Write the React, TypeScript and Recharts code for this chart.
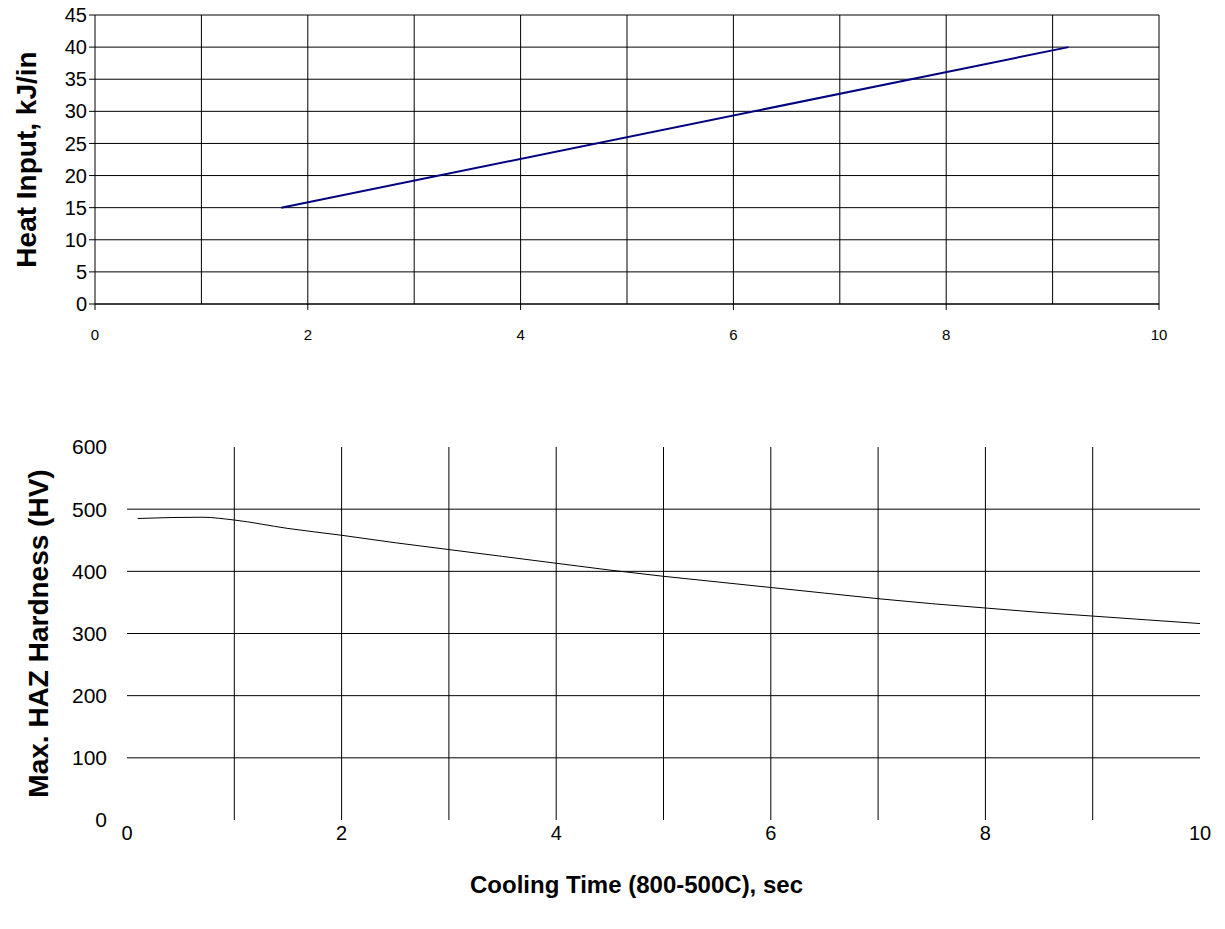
import React from 'react'
import { LineChart, Line, XAxis, YAxis, CartesianGrid, ReferenceLine } from 'recharts'

// top chart: heat input vs cooling time
const heatX = [1.75, 9.15]
const heatY = [15, 40]
const heatXTicks = [0, 2, 4, 6, 8, 10]
const heatYTicks = [0, 5, 10, 15, 20, 25, 30, 35, 40, 45]
const heatGridX = [1, 2, 3, 4, 5, 6, 7, 8, 9, 10]

// bottom chart: max HAZ hardness vs cooling time
const coolX = [0.1, 0.4, 0.7, 1.0, 1.5, 2, 2.5, 3, 3.5, 4, 4.5, 5, 5.5, 6, 6.5, 7, 7.5, 8, 8.5, 9, 9.5, 10]
const hardHV = [485, 486.5, 487, 482.5, 469, 458, 446, 435, 424, 413, 402, 392, 383, 374, 365, 356, 348, 341, 334, 328, 322, 316]
const hardXTicks = [0, 2, 4, 6, 8, 10]
const hardYTicks = [0, 100, 200, 300, 400, 500, 600]
const hardGridX = [1, 2, 3, 4, 5, 6, 7, 8, 9]
const hardGridY = [100, 200, 300, 400, 500]

const font = '"Liberation Sans", Arial, sans-serif'

const heatData = heatX.map((x, i) => ({ x, y: heatY[i] }))
const hardData = coolX.map((x, i) => ({ x, y: hardHV[i] }))

const YTitle = (p: any) => {
  const { viewBox, cx, text, size } = p
  const cy = viewBox.y + viewBox.height / 2
  return (
    <text x={cx} y={cy} transform={`rotate(-90 ${cx} ${cy})`} textAnchor="middle"
      dominantBaseline="central" fontFamily={font} fontWeight="bold" fontSize={size} fill="#000">{text}</text>
  )
}

const XTitle = (p: any) => {
  const { viewBox, cy, dx, text, size } = p
  const cx = viewBox.x + viewBox.width / 2 + dx
  return (
    <text x={cx} y={cy} textAnchor="middle" dominantBaseline="central"
      fontFamily={font} fontWeight="bold" fontSize={size} fill="#000">{text}</text>
  )
}

export default function App() {
  return (
    <div style={{ position: 'absolute', left: 0, top: 0, width: 1225, height: 929, background: '#fff' }}>
      <div style={{ position: 'absolute', left: 0, top: 0 }}>
        <LineChart width={1225} height={350} data={heatData} margin={{ top: 15, right: 66, left: 0, bottom: 0 }}>
          <CartesianGrid vertical={false} stroke="#000" strokeWidth={1} />
          {heatGridX.map(v => <ReferenceLine key={v} x={v} stroke="#000" strokeWidth={1} />)}
          <XAxis dataKey="x" type="number" domain={[0, 10]} ticks={heatXTicks} height={46}
            stroke="#000" tickSize={6} tickMargin={19}
            tick={{ fill: '#000', fontSize: 15, fontFamily: font }} />
          <YAxis type="number" domain={[0, 45]} ticks={heatYTicks} width={95} interval={0}
            stroke="#000" tickSize={6} tickMargin={2}
            tick={{ fill: '#000', fontSize: 20, fontFamily: font }}
            label={<YTitle cx={26} text="Heat Input, kJ/in" size={28} />} />
          <Line dataKey="y" stroke="#000080" strokeWidth={2} dot={false} isAnimationActive={false} />
        </LineChart>
      </div>
      <div style={{ position: 'absolute', left: 0, top: 400 }}>
        <LineChart width={1225} height={520} data={hardData} margin={{ top: 47, right: 25, left: 0, bottom: 0 }}>
          {hardGridY.map(v => <ReferenceLine key={'h' + v} y={v} stroke="#000" strokeWidth={1} />)}
          {hardGridX.map(v => <ReferenceLine key={'v' + v} x={v} stroke="#000" strokeWidth={1} />)}
          <XAxis dataKey="x" type="number" domain={[0, 10]} ticks={hardXTicks} height={100}
            axisLine={false} tickLine={false} tickSize={0} tickMargin={6}
            tick={{ fill: '#000', fontSize: 20, fontFamily: font }}
            label={<XTitle cy={484} dx={-27} text="Cooling Time (800-500C), sec" size={24} />} />
          <YAxis type="number" domain={[0, 600]} ticks={hardYTicks} width={127} interval={0}
            axisLine={false} tickLine={false} tickSize={0} tickMargin={20}
            tick={{ fill: '#000', fontSize: 21, fontFamily: font }}
            label={<YTitle cx={38} text="Max. HAZ Hardness (HV)" size={28} />} />
          <Line type="monotone" dataKey="y" stroke="#000" strokeWidth={1} dot={false} isAnimationActive={false} />
        </LineChart>
      </div>
    </div>
  )
}
